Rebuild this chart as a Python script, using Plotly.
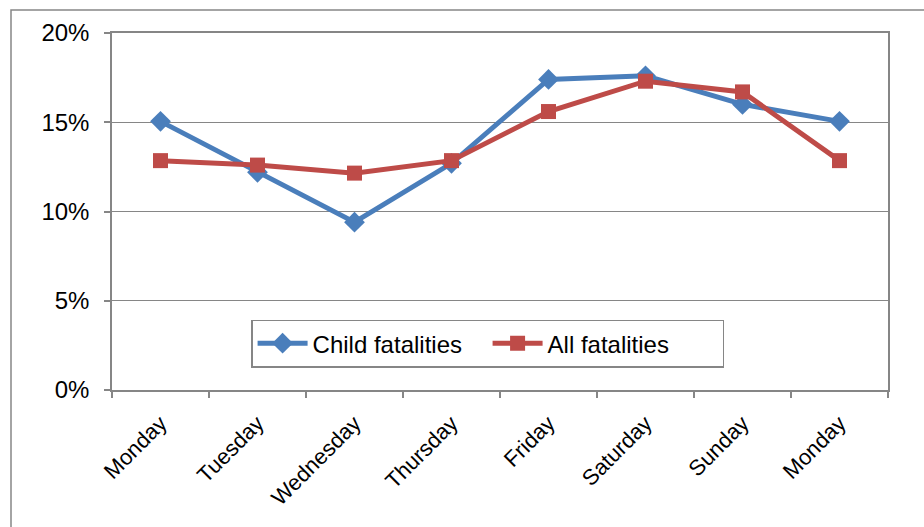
import plotly.graph_objects as go

# Share of road fatalities by day of week
days = ["Monday", "Tuesday", "Wednesday", "Thursday", "Friday", "Saturday", "Sunday", "Monday"]
child_fatalities = [0.1505, 0.122, 0.094, 0.127, 0.174, 0.176, 0.160, 0.1505]
all_fatalities = [0.1285, 0.126, 0.1215, 0.1285, 0.156, 0.173, 0.167, 0.1285]
y_ticks = [0, 0.05, 0.10, 0.15, 0.20]
y_tick_labels = ["0%", "5%", "10%", "15%", "20%"]

positions = list(range(len(days)))

BLUE = "#4A7EBB"
RED = "#BE4B48"
GRAY = "#868686"
FONT = "Liberation Sans, Arial, sans-serif"

fig = go.Figure()
fig.add_trace(go.Scatter(
    x=positions, y=child_fatalities, name="Child fatalities",
    mode="lines+markers",
    line=dict(color=BLUE, width=5),
    marker=dict(symbol="diamond", size=16, color=BLUE),
))
fig.add_trace(go.Scatter(
    x=positions, y=all_fatalities, name="All fatalities",
    mode="lines+markers",
    line=dict(color=RED, width=5),
    marker=dict(symbol="square", size=15, color=RED),
))

fig.update_layout(
    width=924, height=527,
    margin=dict(l=112, r=36, t=33, b=137),
    paper_bgcolor="white",
    plot_bgcolor="white",
    font=dict(family=FONT, size=22, color="black"),
    showlegend=True,
    legend=dict(
        orientation="h",
        x=0.484, y=0.13, xanchor="center", yanchor="middle",
        bgcolor="white", bordercolor=GRAY, borderwidth=1.5,
        font=dict(family=FONT, size=24, color="black"),
        itemwidth=50,
        entrywidth=170, entrywidthmode="pixels",
        tracegroupgap=0,
    ),
    xaxis=dict(
        range=[-0.5, len(days) - 0.5],
        tickmode="array", tickvals=positions, ticktext=days,
        tickangle=-45, ticks="",
        ticklabelstandoff=10,
        showgrid=False, zeroline=False,
        showline=True, linecolor=GRAY, linewidth=1.5, mirror=True,
        tickfont=dict(family=FONT, size=22, color="black"),
        minor=dict(tick0=-0.5, dtick=1, ticks="outside", ticklen=6,
                   tickcolor=GRAY, tickwidth=1.5, showgrid=False),
    ),
    yaxis=dict(
        range=[0, 0.20],
        tickmode="array", tickvals=y_ticks, ticktext=y_tick_labels,
        ticks="outside", ticklen=6, tickcolor=GRAY, tickwidth=1.5,
        ticklabelstandoff=10,
        showgrid=True, gridcolor=GRAY, gridwidth=1.2,
        zeroline=False,
        showline=True, linecolor=GRAY, linewidth=1.5, mirror=True,
        tickfont=dict(family=FONT, size=24, color="black"),
    ),
    shapes=[dict(
        type="rect", xref="paper", yref="paper",
        x0=(11 - 112) / 776, x1=1.2, y0=-0.6, y1=1 + 23 / 357,
        line=dict(color=GRAY, width=1.5), fillcolor="rgba(0,0,0,0)",
        layer="below",
    )],
)

fig.write_html("out.html")
